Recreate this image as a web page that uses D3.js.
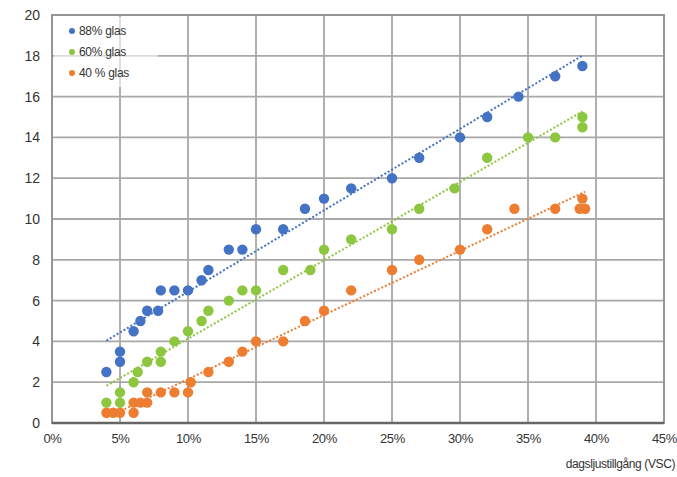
<!DOCTYPE html>
<html>
<head>
<meta charset="utf-8">
<script src="https://cdn.jsdelivr.net/npm/d3@7"></script>
<style>
  body { margin: 0; background: #fff; }
  text { font-family: "Liberation Sans", Arial, sans-serif; }
</style>
</head>
<body>
<div id="chart"></div>
<script>
// Data (x = VSC in %, y = value)
const seriesNames = ["88% glas", "60% glas", "40 % glas"];

const blueX = [4, 5, 5, 6, 6.5, 7, 7.8, 8, 9, 10, 11, 11.5, 13, 14, 15, 17, 18.6, 20, 22, 25, 27, 30, 32, 34.3, 37, 39];
const blueY = [2.5, 3.5, 3, 4.5, 5, 5.5, 5.5, 6.5, 6.5, 6.5, 7, 7.5, 8.5, 8.5, 9.5, 9.5, 10.5, 11, 11.5, 12, 13, 14, 15, 16, 17, 17.5];

const greenX = [4, 5, 5, 6, 6.3, 7, 8, 8, 9, 10, 11, 11.5, 13, 14, 15, 17, 19, 20, 22, 25, 27, 29.6, 32, 35, 37, 39, 39];
const greenY = [1, 1.5, 1, 2, 2.5, 3, 3, 3.5, 4, 4.5, 5, 5.5, 6, 6.5, 6.5, 7.5, 7.5, 8.5, 9, 9.5, 10.5, 11.5, 13, 14, 14, 15, 14.5];

const orangeX = [4, 4.5, 5, 6, 6, 6.5, 7, 7, 8, 9, 10, 10.2, 11.5, 13, 14, 15, 17, 18.6, 20, 22, 25, 27, 30, 32, 34, 37, 38.8, 39.2, 39];
const orangeY = [0.5, 0.5, 0.5, 0.5, 1, 1, 1, 1.5, 1.5, 1.5, 1.5, 2, 2.5, 3, 3.5, 4, 4, 5, 5.5, 6.5, 7.5, 8, 8.5, 9.5, 10.5, 10.5, 10.5, 10.5, 11];

const xTicks = [0, 5, 10, 15, 20, 25, 30, 35, 40, 45];
const yTicks = [0, 2, 4, 6, 8, 10, 12, 14, 16, 18, 20];

const colors = ["#4472C4", "#8DC63F", "#ED7D31"];

const series = [
    { name: seriesNames[0], xs: blueX, ys: blueY, color: colors[0] },
    { name: seriesNames[1], xs: greenX, ys: greenY, color: colors[1] },
    { name: seriesNames[2], xs: orangeX, ys: orangeY, color: colors[2] }
];

let width = 677,
    height = 477;

let margin = { top: 15, bottom: 54, left: 52, right: 13 };

let svg = d3.select('#chart')
    .append('svg')
    .attr('width', width)
    .attr('height', height);

let xScale = d3.scaleLinear()
    .domain([0, 45])
    .range([margin.left, width - margin.right]);

let yScale = d3.scaleLinear()
    .domain([0, 20])
    .range([height - margin.bottom, margin.top]);

// Gridlines
svg.append('g')
    .selectAll('line')
    .data(yTicks)
    .enter().append('line')
    .attr('x1', margin.left)
    .attr('x2', width - margin.right)
    .attr('y1', d => yScale(d))
    .attr('y2', d => yScale(d))
    .attr('stroke', '#a8a8a8')
    .attr('stroke-width', 1.8);

svg.append('g')
    .selectAll('line')
    .data(xTicks)
    .enter().append('line')
    .attr('x1', d => xScale(d))
    .attr('x2', d => xScale(d))
    .attr('y1', margin.top)
    .attr('y2', height - margin.bottom)
    .attr('stroke', '#a8a8a8')
    .attr('stroke-width', 1.8);

// Plot frame
svg.append('rect')
    .attr('x', margin.left)
    .attr('y', margin.top)
    .attr('width', width - margin.left - margin.right)
    .attr('height', height - margin.top - margin.bottom)
    .attr('fill', 'none')
    .attr('stroke', '#959595')
    .attr('stroke-width', 2);

// Bottom axis line
svg.append('line')
    .attr('x1', margin.left)
    .attr('x2', width - margin.right)
    .attr('y1', yScale(0))
    .attr('y2', yScale(0))
    .attr('stroke', '#666')
    .attr('stroke-width', 2.5);

// Axes (labels only)
let xAxis = svg.append('g')
    .attr('transform', `translate(0,${height - margin.bottom})`)
    .call(d3.axisBottom(xScale).tickValues(xTicks).tickSize(0).tickPadding(11).tickFormat(d => d + '%'));
xAxis.select('.domain').remove();
xAxis.selectAll('text')
    .attr('font-size', 13)
    .attr('fill', '#333')
    .attr('letter-spacing', -0.3)
    .style('font-family', '"Liberation Sans", Arial, sans-serif');

let yAxis = svg.append('g')
    .attr('transform', `translate(${margin.left},0)`)
    .call(d3.axisLeft(yScale).tickValues(yTicks).tickSize(0).tickPadding(12));
yAxis.select('.domain').remove();
yAxis.selectAll('text')
    .attr('font-size', 14)
    .attr('fill', '#333')
    .style('font-family', '"Liberation Sans", Arial, sans-serif');

// Axis title
svg.append('text')
    .attr('x', width - 2)
    .attr('y', 468)
    .attr('text-anchor', 'end')
    .attr('font-size', 12)
    .attr('fill', '#333')
    .attr('letter-spacing', -0.4)
    .text('dagsljustillgång (VSC)');

// Linear trendlines (least squares)
function fit(xs, ys) {
    const mx = d3.mean(xs), my = d3.mean(ys);
    let sxy = 0, sxx = 0;
    xs.forEach((x, i) => { sxy += (x - mx) * (ys[i] - my); sxx += (x - mx) * (x - mx); });
    const b = sxy / sxx;
    return { a: my - b * mx, b: b };
}

series.forEach(s => {
    const f = fit(s.xs, s.ys);
    const x0 = d3.min(s.xs), x1 = d3.max(s.xs);
    svg.append('line')
        .attr('x1', xScale(x0))
        .attr('y1', yScale(f.a + f.b * x0))
        .attr('x2', xScale(x1))
        .attr('y2', yScale(f.a + f.b * x1))
        .attr('stroke', s.color)
        .attr('stroke-width', 2)
        .attr('stroke-dasharray', '2,2');
});

// Points
series.forEach(s => {
    svg.append('g')
        .selectAll('circle')
        .data(s.xs.map((x, i) => ({ x: x, y: s.ys[i] })))
        .enter().append('circle')
        .attr('cx', d => xScale(d.x))
        .attr('cy', d => yScale(d.y))
        .attr('r', 5.2)
        .attr('fill', s.color);
});

// Legend
svg.append('rect')
    .attr('x', margin.left + 2)
    .attr('y', margin.top + 2)
    .attr('width', 104)
    .attr('height', 70)
    .attr('fill', '#fff')
    .attr('opacity', 0.6);

const legend = svg.selectAll('.legend')
    .data(series)
    .enter().append('g')
    .attr('class', 'legend')
    .attr('transform', (d, i) => `translate(0,${31 + i * 21})`);

legend.append('circle')
    .attr('cx', 72)
    .attr('cy', 0)
    .attr('r', 3)
    .style('fill', d => d.color);

legend.append('text')
    .attr('x', 79)
    .attr('y', 4)
    .attr('font-size', 12)
    .attr('fill', '#333')
    .attr('letter-spacing', -0.3)
    .text(d => d.name);
</script>
</body>
</html>
